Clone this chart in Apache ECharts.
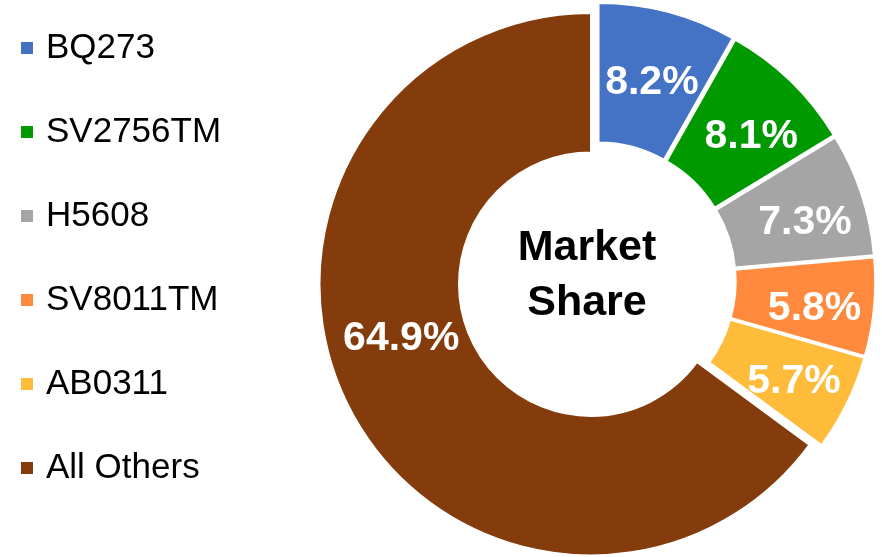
<!DOCTYPE html>
<html>
<head>
<meta charset="utf-8">
<script src="https://cdn.jsdelivr.net/npm/echarts@6/dist/echarts.min.js"></script>
<style>
  html, body { margin: 0; padding: 0; background: #fff; }
  #chart { width: 882px; height: 557px; }
</style>
</head>
<body>
<div id="chart"></div>
<script>
// market share by product
const names = ['BQ273', 'SV2756TM', 'H5608', 'SV8011TM', 'AB0311', 'All Others']
const shares = [8.2, 8.1, 7.3, 5.8, 5.7, 64.9]
const colors = ['#4472C4', '#009900', '#A5A5A5', '#FF8A3D', '#FFBB3A', '#843C0C']

// label nudges so they sit like the excel ones
const labelShift = {
  'BQ273': [1, 6],
  'All Others': [-7, -38]
}

const chart = echarts.init(document.getElementById('chart'))

const pieData = names.map((n, i) => ({
  name: n,
  value: shares[i],
  selected: true,
  itemStyle: { color: colors[i] }
}))

chart.setOption({
  backgroundColor: '#fff',
  animation: false,
  title: {
    text: 'Market\nShare',
    left: 582,
    top: 216,
    textAlign: 'center',
    textStyle: {
      fontFamily: 'Liberation Sans, Arial, sans-serif',
      fontSize: 43,
      fontWeight: 'bold',
      color: '#000',
      lineHeight: 55
    }
  },
  legend: {
    orient: 'vertical',
    left: 14,
    top: 23,
    icon: 'rect',
    itemWidth: 14,
    itemHeight: 14,
    itemGap: 44,
    selectedMode: false,
    data: names,
    textStyle: {
      fontFamily: 'Liberation Sans, Arial, sans-serif',
      fontSize: 35,
      color: '#000',
      lineHeight: 40,
      padding: [0, 0, 0, 7]
    }
  },
  series: [
    {
      type: 'pie',
      center: [597, 281],
      radius: [132, 271],
      startAngle: 90,
      clockwise: true,
      selectedMode: 'multiple',
      selectedOffset: 7,
      avoidLabelOverlap: false,
      itemStyle: { borderColor: '#fff', borderWidth: 1.5 },
      emphasis: { disabled: true },
      label: {
        show: true,
        position: 'inside',
        formatter: p => p.value.toFixed(1) + '%',
        fontFamily: 'Liberation Sans, Arial, sans-serif',
        fontSize: 41,
        fontWeight: 'bold',
        color: '#fff'
      },
      labelLine: { show: false },
      labelLayout: p => {
        const s = labelShift[names[p.dataIndex]] || [7, 8]
        return { dx: s[0], dy: s[1] }
      },
      data: pieData
    }
  ]
})
</script>
</body>
</html>
